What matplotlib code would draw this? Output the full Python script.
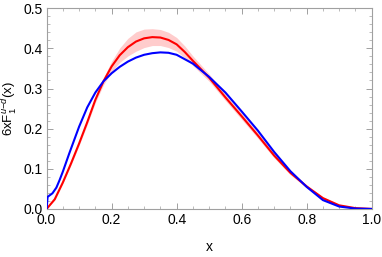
import matplotlib
matplotlib.use("Agg")
import matplotlib.pyplot as plt
import numpy as np
from matplotlib.ticker import MultipleLocator, FormatStrFormatter

plt.rcParams['font.family'] = ['Liberation Sans', 'DejaVu Sans']
plt.rcParams['mathtext.fontset'] = 'custom'
plt.rcParams['mathtext.rm'] = 'Liberation Sans'
plt.rcParams['mathtext.it'] = 'Liberation Sans:italic'

# Red curve (with uncertainty band)
x_red = [0.0, 0.025, 0.05, 0.075, 0.1, 0.125, 0.15, 0.175, 0.2, 0.225, 0.25, 0.275,
         0.3, 0.325, 0.35, 0.375, 0.4, 0.425, 0.45, 0.5, 0.55, 0.6, 0.65, 0.7, 0.75, 0.8,
         0.85, 0.9, 0.95, 1.0]
y_red = [0.0, 0.024, 0.066, 0.113, 0.163, 0.216, 0.272, 0.318, 0.355, 0.383, 0.403, 0.417,
         0.425, 0.428, 0.427, 0.421, 0.410, 0.391, 0.369, 0.327, 0.278, 0.231, 0.183, 0.133, 0.090, 0.056,
         0.027, 0.009, 0.002, 0.0]
err_red = [0.0, 0.002, 0.003, 0.004, 0.005, 0.006, 0.007, 0.009, 0.013, 0.018, 0.022, 0.024,
           0.023, 0.021, 0.020, 0.019, 0.017, 0.015, 0.012, 0.009, 0.008, 0.008, 0.007, 0.006, 0.005, 0.004,
           0.003, 0.002, 0.001, 0.0]

# Blue curve
x_blue = [0.0, 0.003, 0.018, 0.03, 0.04, 0.05, 0.07, 0.1, 0.125, 0.15, 0.175, 0.2, 0.225,
          0.25, 0.275, 0.3, 0.325, 0.35, 0.375, 0.4, 0.45, 0.5, 0.55, 0.6, 0.65, 0.7,
          0.75, 0.8, 0.85, 0.9, 0.95, 1.0]
y_blue = [0.0, 0.030, 0.039, 0.053, 0.072, 0.093, 0.139, 0.205, 0.253, 0.290, 0.318, 0.338, 0.354,
          0.367, 0.377, 0.384, 0.388, 0.390, 0.389, 0.384, 0.362, 0.329, 0.290, 0.243, 0.195, 0.142,
          0.094, 0.055, 0.022, 0.006, 0.001, 0.0]

fig = plt.figure(figsize=(3.82, 2.57), dpi=100)
ax = fig.add_axes([0.122, 0.187, 0.851, 0.781])

yr = np.array(y_red)
er = np.array(err_red)
ax.fill_between(x_red, yr - er, yr + er, color='#ffcccc', lw=0, zorder=1)
ax.plot(x_red, y_red, color='#ff0000', lw=1.5, zorder=3)
ax.plot(x_blue, y_blue, color='#0000ff', lw=1.5, zorder=4)

ax.set_xlim(0, 1)
ax.set_ylim(0, 0.5)
ax.xaxis.set_major_locator(MultipleLocator(0.2))
ax.xaxis.set_minor_locator(MultipleLocator(0.05))
ax.yaxis.set_major_locator(MultipleLocator(0.1))
ax.yaxis.set_minor_locator(MultipleLocator(0.02))
ax.xaxis.set_major_formatter(FormatStrFormatter('%.1f'))
ax.yaxis.set_major_formatter(FormatStrFormatter('%.1f'))

gray = '#a0a0a0'
for s in ax.spines.values():
    s.set_color(gray)
    s.set_linewidth(0.8)
ax.tick_params(which='both', direction='in', top=True, right=True, color=gray,
               labelsize=10, labelcolor='black')
ax.tick_params(which='major', length=4.5, width=0.7, pad=3)
ax.tick_params(which='minor', length=2.5, width=0.5)

ax.set_xlabel('x', fontsize=10, labelpad=9)
ax.set_ylabel(r'6xF$_1^{u\mathrm{-}d}$(x)', fontsize=9.5)
ax.yaxis.set_label_coords(-0.082, 0.5)

fig.savefig('out.png', dpi=100)
